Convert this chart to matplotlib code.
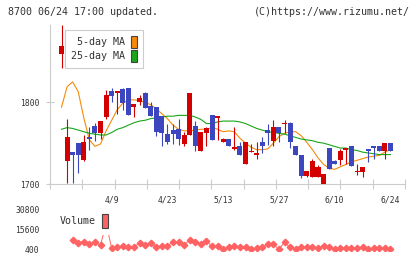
import numpy as np
import matplotlib
matplotlib.use("Agg")
import matplotlib.pyplot as plt
from matplotlib.patches import Patch

# daily prices (index 0..59)
opens = [1859, 1728, 1739, 1750, 1729, 1757, 1771, 1762, 1782, 1814,
         1811, 1816, 1817, 1794, 1800, 1811, 1795, 1794, 1783, 1761,
         1766, 1767, 1749, 1760, 1771, 1740, 1763, 1784, 1781, 1751,
         1755, 1743, 1747, 1724, 1739, 1735, 1751, 1766, 1753, 1770,
         1774, 1775, 1747, 1736, 1710, 1709, 1708, 1700, 1744, 1728,
         1729, 1742, 1747, 1715, 1715, 1743, 1747, 1747, 1740, 1750]
highs = [1895, 1779, 1739, 1750, 1760, 1770, 1775, 1777, 1815, 1818,
         1814, 1817, 1818, 1798, 1809, 1812, 1800, 1794, 1783, 1773,
         1773, 1780, 1764, 1811, 1777, 1764, 1770, 1785, 1783, 1756,
         1755, 1770, 1751, 1751, 1749, 1751, 1758, 1773, 1778, 1770,
         1778, 1776, 1747, 1736, 1716, 1731, 1723, 1712, 1744, 1729,
         1743, 1744, 1747, 1725, 1721, 1743, 1747, 1747, 1750, 1750]
lows = [1842, 1701, 1701, 1714, 1728, 1742, 1753, 1755, 1779, 1800,
        1786, 1790, 1784, 1782, 1797, 1793, 1783, 1759, 1746, 1749,
        1749, 1748, 1747, 1760, 1740, 1740, 1746, 1754, 1754, 1751,
        1746, 1742, 1735, 1724, 1739, 1731, 1738, 1748, 1746, 1751,
        1762, 1744, 1736, 1707, 1708, 1709, 1708, 1700, 1718, 1724,
        1723, 1724, 1722, 1711, 1708, 1727, 1731, 1740, 1731, 1740]
closes = [1869, 1758, 1736, 1735, 1751, 1755, 1762, 1777, 1809, 1808,
          1814, 1799, 1784, 1798, 1805, 1793, 1783, 1764, 1762, 1751,
          1761, 1755, 1760, 1811, 1746, 1764, 1768, 1754, 1783, 1755,
          1746, 1745, 1735, 1751, 1740, 1738, 1746, 1762, 1770, 1762,
          1775, 1751, 1736, 1710, 1716, 1728, 1721, 1712, 1718, 1724,
          1740, 1744, 1722, 1716, 1721, 1740, 1744, 1740, 1750, 1740]

ma5 = [1794, 1819, 1825, 1813, 1781, 1754, 1746, 1749, 1765, 1778,
       1791, 1799, 1803, 1803, 1802, 1800, 1797, 1792, 1786, 1780,
       1772, 1767, 1765, 1765, 1766, 1767, 1767, 1769, 1767, 1764,
       1765, 1764, 1756, 1750, 1745, 1742, 1742, 1743, 1750, 1758,
       1762, 1764, 1764, 1759, 1751, 1742, 1732, 1724, 1719, 1718,
       1721, 1724, 1727, 1729, 1731, 1733, 1734, 1735, 1739, 1742]
ma25 = [1767, 1769, 1768, 1766, 1764, 1762, 1761, 1760, 1760, 1763,
        1767, 1769, 1772, 1775, 1777, 1778, 1780, 1781, 1782, 1783,
        1783, 1784, 1784, 1784, 1782, 1779, 1774, 1774, 1776, 1777,
        1777, 1777, 1776, 1774, 1771, 1768, 1766, 1764, 1763, 1762,
        1761, 1759, 1757, 1755, 1754, 1753, 1751, 1750, 1748, 1746,
        1744, 1744, 1742, 1741, 1739, 1738, 1737, 1736, 1736, 1736]

nan = float("nan")
volume = [nan, nan, 7500, 5400, 6200, 4200, 5700, 3700, 20000, 1200,
          2400, 2900, 2400, 1900, 5400, 3400, 5000, 2400, 2900, 2900,
          5900, 5700, 3700, 7500, 5700, 4400, 6500, 2900, 2700, 400,
          1900, 2700, 1900, 1900, 400, 1200, 1900, 4200, 4200, 400,
          5700, 1900, 400, 1900, 1900, 1900, 1200, 3100, 1900, 400,
          1200, 1200, 1200, 1200, 1900, 400, 1200, 1200, 1200, 400]

date_labels = ["4/9", "4/23", "5/13", "5/27", "6/10", "6/24"]
date_pos = [9, 19, 29, 39, 49, 59]

RED = "#d40000"
BLUE = "#3c46be"
ORANGE = "#f58a0a"
GREEN = "#19a619"
VOLC = "#ff6262"
GRID = "#cccccc"
TXT = "#333333"
MONO = "DejaVu Sans Mono"

W, H = 420, 259
fig = plt.figure(figsize=(W / 100, H / 100), dpi=100)

x = np.arange(len(closes))
xlim = ((50 - 61.5) / 5.576, (405 - 61.5) / 5.576)

# price panel
ax = fig.add_axes([50 / W, (H - 184) / H, 355 / W, (184 - 25) / H])
ax.plot(x, ma5, color=ORANGE, lw=0.8, zorder=2)
ax.plot(x, ma25, color=GREEN, lw=0.8, zorder=2)

o = np.array(opens); c = np.array(closes)
cols = [RED if cc >= oo else BLUE for oo, cc in zip(o, c)]
ax.vlines(x, lows, highs, colors=cols, lw=0.8, zorder=3)
body = np.maximum(np.abs(c - o), 1.2)
ax.bar(x, body, bottom=np.minimum(o, c), width=0.9, color=cols, zorder=4)

ax.set_xlim(*xlim)
ax.set_ylim(1700, 1894.6)
for s in ["top", "right"]:
    ax.spines[s].set_visible(False)
for s in ["left", "bottom"]:
    ax.spines[s].set_color(GRID)
    ax.spines[s].set_linewidth(0.8)
ax.set_yticks([1700, 1800])
ax.set_yticklabels(["1700", "1800"], fontfamily=MONO, fontsize=5.8, color=TXT)
ax.tick_params(axis="y", direction="inout", length=5.8, width=0.8, color=GRID, pad=4.6)
ax.set_xticks(date_pos)
ax.set_xticklabels(date_labels, fontfamily=MONO, fontsize=5.8, color=TXT)
ax.tick_params(axis="x", which="major", length=0, pad=8)
ax.set_xticks(np.linspace(xlim[0], xlim[1], 12), minor=True)
ax.tick_params(axis="x", which="minor", direction="inout", length=6.5, width=0.8, color=GRID)

leg = ax.legend([Patch(facecolor=ORANGE, edgecolor="#444444", lw=0.8),
                 Patch(facecolor=GREEN, edgecolor="#444444", lw=0.8)],
                ["5-day MA", "25-day MA"],
                loc="upper left", bbox_to_anchor=(65 / W, 1 - 30 / H),
                bbox_transform=fig.transFigure, borderaxespad=0,
                markerfirst=False, prop={"family": MONO, "size": 7.2},
                handlelength=0.6, handleheight=1.5, handletextpad=0.6,
                labelspacing=0.15, borderpad=0.6, fancybox=False,
                edgecolor=GRID, framealpha=1)
leg.get_frame().set_linewidth(0.8)
for t in leg.get_texts():
    t.set_color(TXT)

# volume panel
vax = fig.add_axes([50 / W, (H - 251) / H, 355 / W, 44 / H])
vax.plot(x, volume, color=VOLC, lw=0.7, marker="D", ms=3.3, mec=VOLC, mfc=VOLC)
vax.set_xlim(*xlim)
vax.set_ylim(-892, 32548)
for s in vax.spines.values():
    s.set_visible(False)
vax.set_xticks([])
vax.set_yticks([400, 15600, 30800])
vax.set_yticklabels(["400", "15600", "30800"], fontfamily=MONO, fontsize=5.8, color=TXT)
vax.tick_params(axis="y", length=0, pad=7.5)

vleg = vax.legend([Patch(facecolor=VOLC, edgecolor="#444444", lw=0.8)], ["Volume"],
                  loc="upper left", bbox_to_anchor=(53 / W, 1 - 207 / H),
                  bbox_transform=fig.transFigure, borderaxespad=0,
                  markerfirst=False, prop={"family": MONO, "size": 7.2},
                  handlelength=0.6, handleheight=1.8, handletextpad=0.6,
                  borderpad=0.7, fancybox=False, edgecolor="none", framealpha=1)
for t in vleg.get_texts():
    t.set_color(TXT)

fig.text(8 / W, 1 - 12 / H, "8700 06/24 17:00 updated.", fontfamily=MONO,
         fontsize=7.2, color=TXT, va="center", ha="left")
fig.text(410 / W, 1 - 12 / H, "(C)https://www.rizumu.net/", fontfamily=MONO,
         fontsize=7.2, color=TXT, va="center", ha="right")

fig.savefig("out.png", dpi=100)
